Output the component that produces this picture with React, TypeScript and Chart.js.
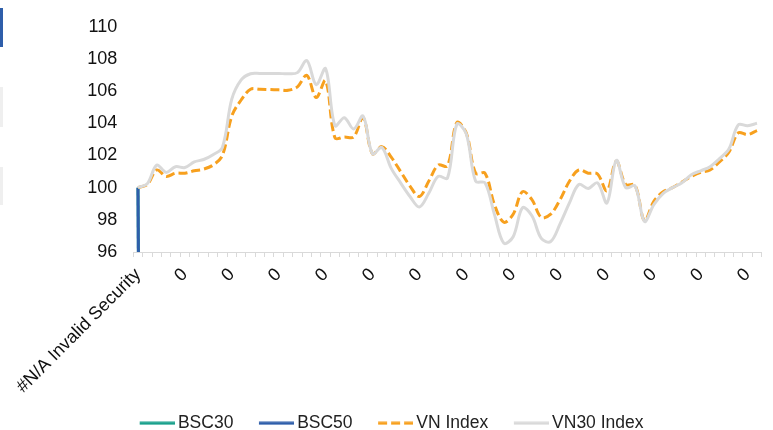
import { useEffect, useRef } from 'react';
import { Chart, registerables } from 'chart.js';

Chart.register(...registerables);

const categories = [
  '#N/A Invalid Security', '0', '0', '0', '0', '0', '0', '0', '0', '0',
  '0', '0', '0', '0', '0', '0', '0', '0', '0', '0',
  '0', '0', '0', '0', '0', '0', '0', '0', '0', '0',
  '0', '0', '0', '0', '0', '0', '0', '0', '0', '0',
  '0', '0', '0', '0', '0', '0', '0', '0', '0', '0',
  '0', '0', '0', '0', '0', '0', '0', '0', '0', '0',
  '0', '0', '0', '0', '0', '0', '0',
];

const bsc30 = [100, 0];
const bsc50 = [100, 0];

const vnIndex = [
  100.0, 100.2, 101.1, 100.7, 100.9, 100.9, 101.05, 101.15, 101.4, 102.0,
  104.45, 105.45, 106.12, 106.12, 106.1, 106.08, 106.05, 106.27, 106.98, 105.6,
  106.65, 103.1, 103.15, 103.15, 104.35, 102.1, 102.55, 101.9, 101.0, 100.1,
  99.45, 100.4, 101.4, 101.35, 104.05, 103.4, 100.9, 100.9, 98.95, 97.85,
  98.35, 99.75, 99.25, 98.15, 98.35, 99.25, 100.4, 101.1, 100.9, 100.85,
  99.8, 101.65, 100.2, 100.15, 97.95, 99.15, 99.75, 100.0, 100.35, 100.7,
  100.95, 101.1, 101.6, 102.2, 103.4, 103.3, 103.55,
];

const vn30Index = [
  100.0, 100.25, 101.4, 100.95, 101.3, 101.25, 101.6, 101.75, 102.05, 102.5,
  105.5, 106.7, 107.08, 107.1, 107.1, 107.1, 107.08, 107.15, 107.9, 106.4,
  107.4, 103.85, 104.35, 103.65, 104.45, 102.1, 102.5, 101.2, 100.3, 99.45,
  98.8, 99.65, 100.7, 100.6, 103.95, 103.35, 100.4, 100.3, 98.35, 96.55,
  96.95, 98.75, 98.25, 96.85, 96.65, 97.75, 99.05, 100.2, 99.95, 100.3,
  99.05, 101.7, 100.0, 100.1, 97.9, 98.95, 99.65, 100.0, 100.3, 100.8,
  101.05, 101.3, 101.8, 102.4, 103.9, 103.85, 104.0,
];

const yTicks = [96, 98, 100, 102, 104, 106, 108, 110];

const FONT = "'Liberation Sans', Arial, sans-serif";

// legend marker: transparent lead-in, then a 35px line sample
function makeMarker(color: string, dash: number[]) {
  const c = document.createElement('canvas');
  c.width = 56;
  c.height = 4;
  const ctx = c.getContext('2d')!;
  ctx.strokeStyle = color;
  ctx.lineWidth = 3;
  ctx.setLineDash(dash);
  ctx.beginPath();
  ctx.moveTo(21, 2);
  ctx.lineTo(56, 2);
  ctx.stroke();
  return c;
}

export default function App() {
  const ref = useRef<HTMLCanvasElement>(null);

  useEffect(() => {
    if (!ref.current) return;
    Chart.defaults.font.family = FONT;
    const datasets: any[] = [
      { label: 'BSC30', data: bsc30, borderColor: '#1AA08C', backgroundColor: '#1AA08C', borderWidth: 3, tension: 0, order: 4 },
      { label: 'BSC50', data: bsc50, borderColor: '#2E5EAA', backgroundColor: '#2E5EAA', borderWidth: 3, tension: 0, order: 3 },
      { label: 'VN Index', data: vnIndex, borderColor: '#F7A01E', backgroundColor: '#F7A01E', borderWidth: 3, borderDash: [9, 4], tension: 0.35, order: 2 },
      { label: 'VN30 Index', data: vn30Index, borderColor: '#D9D9D9', backgroundColor: '#D9D9D9', borderWidth: 3, tension: 0.35, order: 1 },
    ];
    const markers = datasets.map((d) => makeMarker(d.borderColor, d.borderDash || []));
    const chart = new Chart(ref.current, {
      type: 'line',
      data: { labels: categories, datasets },
      options: {
        responsive: false,
        animation: false,
        devicePixelRatio: 1,
        layout: { padding: { top: 22, right: 11.3, left: 6, bottom: 0 } },
        elements: { point: { radius: 0, hoverRadius: 0 } },
        plugins: {
          tooltip: { enabled: false },
          legend: {
            position: 'bottom',
            labels: {
              usePointStyle: true,
              pointStyleWidth: 45,
              padding: 10,
              color: '#222',
              font: { size: 17.5, family: FONT },
              generateLabels: (ch: any) =>
                ch.data.datasets.map((d: any, i: number) => ({
                  text: d.label,
                  datasetIndex: i,
                  pointStyle: markers[i],
                  fillStyle: d.borderColor,
                  strokeStyle: d.borderColor,
                  lineWidth: 0,
                  hidden: false,
                  fontColor: '#222',
                })),
            },
          },
        },
        scales: {
          x: {
            offset: true,
            grid: { offset: true, display: true, drawOnChartArea: false, drawTicks: true, tickLength: 5, color: '#D9D9D9' },
            border: { display: true, color: '#D9D9D9', width: 1 },
            ticks: {
              autoSkip: false,
              maxRotation: 45,
              minRotation: 45,
              padding: 7,
              color: '#111',
              font: { size: 18, family: FONT },
              callback: (_v: any, i: number) => (i % 5 === 0 ? categories[i] : ''),
            },
            afterFit: (s: any) => {
              s.height = 152.5;
              s.paddingLeft = 0;
              s.paddingRight = 0;
            },
          },
          y: {
            min: 96,
            max: 110,
            afterBuildTicks: (s: any) => {
              s.ticks = yTicks.map((v) => ({ value: v }));
            },
            afterFit: (s: any) => {
              s.width = 127.3;
            },
            grid: { display: false, drawTicks: false },
            border: { display: false },
            ticks: { padding: 16, color: '#111', font: { size: 18, family: FONT } },
          },
        },
      },
    });
    return () => chart.destroy();
  }, []);

  return (
    <div style={{ position: 'fixed', left: 0, top: 0, width: 773, height: 430, overflow: 'hidden', background: '#fff' }}>
      <canvas ref={ref} width={773} height={442} style={{ display: 'block' }} />
      <div style={{ position: 'absolute', left: 0, top: 8, width: 3, height: 39, background: '#2E5EAA' }} />
      <div style={{ position: 'absolute', left: 0, top: 87, width: 3, height: 40, background: '#EFEFEF' }} />
      <div style={{ position: 'absolute', left: 0, top: 167, width: 3, height: 38, background: '#EFEFEF' }} />
    </div>
  );
}
